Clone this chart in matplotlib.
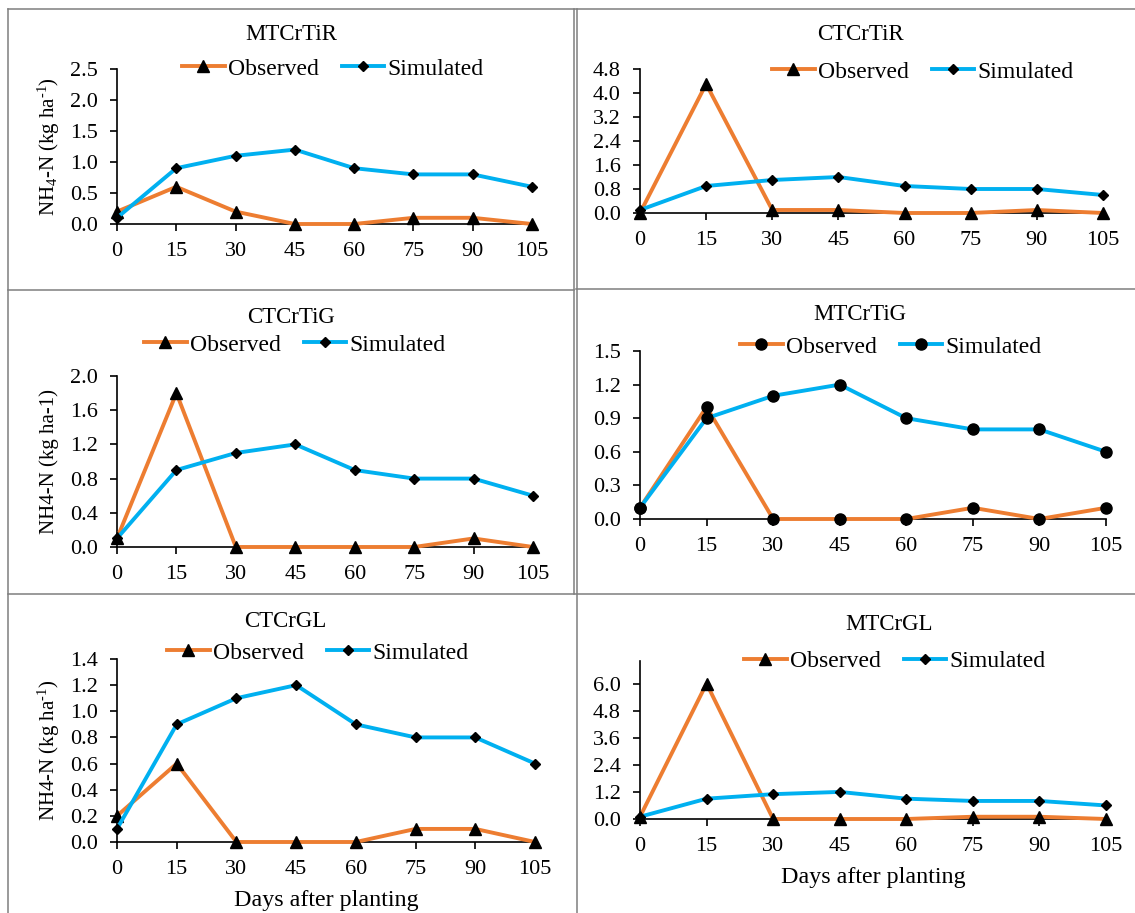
import matplotlib.pyplot as plt
from matplotlib.lines import Line2D

plt.rcParams['font.family'] = ['Liberation Serif', 'DejaVu Serif']
plt.rcParams['mathtext.fontset'] = 'custom'
plt.rcParams['mathtext.rm'] = 'Liberation Serif'
plt.rcParams['mathtext.it'] = 'Liberation Serif:italic'

W, H = 1135, 913

days = [0, 15, 30, 45, 60, 75, 90, 105]

titles = ['MTCrTiR', 'CTCrTiR', 'CTCrTiG', 'MTCrTiG', 'CTCrGL', 'MTCrGL']

obs_mtcrtir = [0.2, 0.6, 0.2, 0.0, 0.0, 0.1, 0.1, 0.0]
sim_mtcrtir = [0.1, 0.9, 1.1, 1.2, 0.9, 0.8, 0.8, 0.6]
obs_ctcrtir = [0.0, 4.3, 0.1, 0.1, 0.0, 0.0, 0.1, 0.0]
sim_ctcrtir = [0.1, 0.9, 1.1, 1.2, 0.9, 0.8, 0.8, 0.6]
obs_ctcrtig = [0.1, 1.8, 0.0, 0.0, 0.0, 0.0, 0.1, 0.0]
sim_ctcrtig = [0.1, 0.9, 1.1, 1.2, 0.9, 0.8, 0.8, 0.6]
obs_mtcrtig = [0.1, 1.0, 0.0, 0.0, 0.0, 0.1, 0.0, 0.1]
sim_mtcrtig = [0.1, 0.9, 1.1, 1.2, 0.9, 0.8, 0.8, 0.6]
obs_ctcrgl = [0.2, 0.6, 0.0, 0.0, 0.0, 0.1, 0.1, 0.0]
sim_ctcrgl = [0.1, 0.9, 1.1, 1.2, 0.9, 0.8, 0.8, 0.6]
obs_mtcrgl = [0.1, 6.0, 0.0, 0.0, 0.0, 0.1, 0.1, 0.0]
sim_mtcrgl = [0.1, 0.9, 1.1, 1.2, 0.9, 0.8, 0.8, 0.6]

observed = [obs_mtcrtir, obs_ctcrtir, obs_ctcrtig, obs_mtcrtig, obs_ctcrgl, obs_mtcrgl]
simulated = [sim_mtcrtir, sim_ctcrtir, sim_ctcrtig, sim_mtcrtig, sim_ctcrgl, sim_mtcrgl]

# y axis: top, step, last labelled tick
y_top = [2.5, 4.8, 2.0, 1.5, 1.4, 7.0]
y_step = [0.5, 0.8, 0.4, 0.3, 0.2, 1.2]
y_last = [2.5, 4.8, 2.0, 1.5, 1.4, 6.0]

ylabels = ['NH$_4$-N (kg ha$^{\u20101}$)', None, 'NH4-N (kg ha-1)', None,
           'NH4-N (kg ha$^{\u20101}$)', None]

# axes boxes in pixels: left, right, top, bottom
boxes = [(117, 532, 69, 224), (640, 1103, 69, 213),
         (117, 533, 376, 547), (640, 1106, 351, 519),
         (117, 535, 659, 842), (640, 1106, 661, 819)]
title_xy = [(291, 35), (860, 34), (291, 317), (860, 315), (285, 621), (889, 624)]
legend_xy = [(333, 69), (923, 72), (295, 345), (891, 347), (318, 653), (895, 661)]

orange = '#ED7D31'
blue = '#00B0F0'

fig = plt.figure(figsize=(W / 100, H / 100), dpi=100)


def fx(x):
    return x / W


def fy(y):
    return 1 - y / H


for i in range(6):
    l, r, t, b = boxes[i]
    ax = fig.add_axes([fx(l), fy(b), (r - l) / W, (b - t) / H])
    if i == 3:
        m_obs, m_sim, ms_o, ms_s = 'o', 'o', 8, 8
    else:
        m_obs, m_sim, ms_o, ms_s = '^', 'D', 8, 5.5
    ax.plot(days, observed[i], color=orange, lw=2.8, marker=m_obs, ms=ms_o,
            mfc='black', mec='black', label='Observed', clip_on=False, zorder=3)
    ax.plot(days, simulated[i], color=blue, lw=2.8, marker=m_sim, ms=ms_s,
            mfc='black', mec='black', label='Simulated', clip_on=False, zorder=4)
    ax.set_xlim(0, 105)
    ax.set_ylim(0, y_top[i])
    ax.set_xticks(days)
    n = int(round(y_last[i] / y_step[i]))
    yt = [k * y_step[i] for k in range(n + 1)]
    ax.set_yticks(yt)
    ax.set_yticklabels(['%.1f' % v for v in yt])
    for s in ['top', 'right']:
        ax.spines[s].set_visible(False)
    for s in ['left', 'bottom']:
        ax.spines[s].set_linewidth(1.2)
    ax.tick_params(axis='both', direction='out', length=5, width=1.2,
                   labelsize=16, colors='black')
    ax.tick_params(axis='y', pad=9)
    ax.tick_params(axis='x', pad=8)
    ax.patch.set_alpha(0)

    if ylabels[i]:
        ax.set_ylabel(ylabels[i], fontsize=15)
        ax.yaxis.set_label_coords((49 - l) / (r - l), 0.5)
        ax.yaxis.label.set_va('center')
    if i >= 4:
        ax.set_xlabel('Days after planting', fontsize=17.3)
        lab_y = 900 if i == 4 else 877
        ax.xaxis.set_label_coords(0.5, -(lab_y - b) / (b - t))
        ax.xaxis.label.set_va('center')

    tx, ty = title_xy[i]
    fig.text(fx(tx), fy(ty), titles[i], ha='center', va='center', fontsize=16.5)

    lx, ly = legend_xy[i]
    ax.legend(loc='center', bbox_to_anchor=(fx(lx), fy(ly)),
              bbox_transform=fig.transFigure, ncol=2, frameon=False,
              fontsize=17, handlelength=1.8, handletextpad=0.15,
              columnspacing=0.95, borderpad=0, borderaxespad=0)

# table borders
gray = '#7f7f7f'


def hline(y, x0, x1, lw=1.1):
    fig.add_artist(Line2D([fx(x0), fx(x1)], [fy(y), fy(y)], color=gray, lw=lw))


def vline(x, y0, y1, lw=1.1):
    fig.add_artist(Line2D([fx(x), fx(x)], [fy(y0), fy(y1)], color=gray, lw=lw))


hline(9.5, 8, 1135)
vline(8, 9.5, 913)
vline(574, 9.5, 594)
vline(576.5, 9.5, 913)
hline(290, 8, 574)
hline(289, 576, 1135)
hline(594, 8, 1135)

fig.savefig('out.png', dpi=100)
